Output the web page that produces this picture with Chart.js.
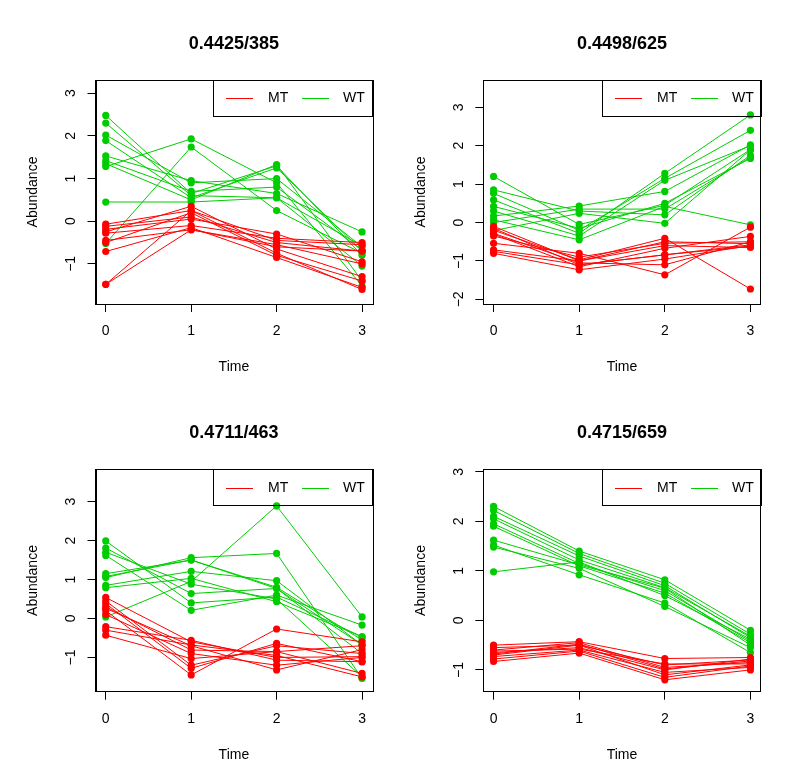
<!DOCTYPE html>
<html lang="en">
<head>
<meta charset="UTF-8">
<title>Abundance over time</title>
<style>
  * { margin: 0; padding: 0; }
  body { background: #fff; width: 800px; height: 783px; position: relative; overflow: hidden; }
  canvas { position: absolute; }
</style>
</head>
<body>
<canvas id="p1" width="400" height="391" style="left:0;top:0"></canvas>
<canvas id="p2" width="400" height="391" style="left:400px;top:0"></canvas>
<canvas id="p3" width="400" height="392" style="left:0;top:391px"></canvas>
<canvas id="p4" width="400" height="392" style="left:400px;top:391px"></canvas>
<script src="https://cdn.jsdelivr.net/npm/chart.js@4.4.1/dist/chart.umd.min.js"></script>
<script>
// time points and groups
const times = [0, 1, 2, 3];
const groups = ['MT', 'WT'];
const groupColors = ['rgb(255,0,0)', 'rgb(0,205,0)'];

// panel 1: 0.4425/385
const p1MT = [
  [-0.07, 0.25, -0.45, -0.55],
  [-0.12, 0.10, -0.50, -0.70],
  [-0.19, 0.05, -0.30, -0.95],
  [-0.25, 0.35, -0.65, -1.30],
  [-0.28, -0.10, -0.40, -0.50],
  [-0.50, 0.20, -0.80, -1.40],
  [-0.45, -0.20, -0.55, -1.00],
  [-0.71, -0.15, -0.85, -1.55],
  [-1.48, 0.25, -0.75, -1.60],
  [-1.48, -0.20, -0.60, -0.70]
];
const p1WT = [
  [2.48, 0.65, 1.30, -0.80],
  [2.30, 0.60, 0.55, -1.05],
  [2.02, 0.90, 1.00, -0.60],
  [1.89, 0.55, 1.25, -0.70],
  [1.53, 0.95, 0.65, -0.25],
  [1.42, 0.70, 0.80, -0.68],
  [1.28, 1.93, 0.90, -1.52],
  [0.45, 0.45, 0.55, -0.58],
  [-0.52, 1.74, 0.25, -0.75],
  [1.35, 0.50, 1.33, -1.40]
];

// panel 2: 0.4498/625
const p2MT = [
  [-0.10, -1.00, -0.50, -0.55],
  [-0.15, -1.10, -0.84, -0.62],
  [-0.20, -0.97, -0.41, -1.73],
  [-0.28, -1.05, -1.10, -0.50],
  [-0.30, -1.15, -0.67, -0.36],
  [-0.54, -0.80, -1.36, -0.12],
  [-0.71, -1.00, -0.60, -0.65],
  [-0.75, -1.10, -0.84, -0.58],
  [-0.80, -1.23, -0.95, -0.60],
  [-0.35, -0.90, -0.54, -0.50]
];
const p2WT = [
  [1.20, -0.05, 0.45, 1.90],
  [0.85, 0.30, 0.20, 1.75],
  [0.76, -0.20, 1.15, 2.40],
  [0.59, -0.28, 1.28, 2.80],
  [0.42, -0.15, 0.50, 1.67],
  [0.17, 0.43, 0.81, 2.02],
  [0.07, -0.45, 0.42, -0.06],
  [-0.21, 0.24, -0.02, 1.89],
  [0.30, -0.35, 1.10, 2.00],
  [0.00, 0.35, 0.35, 1.70]
];

// panel 3: 0.4711/463
const p3MT = [
  [0.54, -0.60, -1.00, -0.98],
  [0.38, -1.28, -0.64, -1.11],
  [0.26, -0.70, -1.32, -0.80],
  [0.30, -0.81, -0.85, -1.41],
  [0.20, -1.45, -0.27, -0.60],
  [-0.21, -0.56, -1.07, -1.11],
  [-0.43, -1.03, -0.85, -0.70],
  [-0.30, -0.68, -0.95, -1.50],
  [0.45, -1.20, -0.70, -0.90],
  [0.10, -0.90, -1.20, -1.00]
];
const p3WT = [
  [1.99, 0.40, 0.55, -0.47],
  [1.81, 0.64, 0.77, -0.68],
  [1.62, 0.21, 0.60, -0.17],
  [1.15, 1.50, 0.77, -0.90],
  [1.05, 1.56, 1.67, -1.54],
  [0.85, 1.21, 0.97, -0.68],
  [0.79, 1.03, 0.43, -0.47],
  [0.04, 0.95, 2.89, 0.04],
  [1.70, 0.88, 0.50, -1.50],
  [1.08, 1.50, 0.80, -0.55]
];

// panel 4: 0.4715/659
const p4MT = [
  [-0.50, -0.43, -0.77, -0.75],
  [-0.55, -0.50, -0.90, -0.80],
  [-0.60, -0.45, -0.95, -0.85],
  [-0.65, -0.55, -1.00, -0.78],
  [-0.70, -0.50, -1.10, -0.90],
  [-0.73, -0.60, -1.05, -0.95],
  [-0.78, -0.62, -1.15, -0.92],
  [-0.83, -0.66, -1.20, -1.00],
  [-0.68, -0.48, -0.98, -0.82],
  [-0.62, -0.58, -0.88, -0.88]
];
const p4WT = [
  [2.30, 1.40, 0.82, -0.20],
  [2.22, 1.35, 0.75, -0.28],
  [2.10, 1.30, 0.70, -0.35],
  [2.05, 1.22, 0.66, -0.32],
  [1.95, 1.15, 0.60, -0.42],
  [1.90, 1.10, 0.55, -0.45],
  [1.62, 1.12, 0.65, -0.50],
  [1.52, 0.92, 0.35, -0.65],
  [1.48, 1.05, 0.28, -0.55],
  [0.98, 1.18, 0.50, -0.38]
];

const panels = [
  {id: 'p1', title: '0.4425/385', mt: p1MT, wt: p1WT, yMin: -1.94, yMax: 3.31, yTicks: [-1, 0, 1, 2, 3],
   area: {left: 95.5, right: 372.3, top: 80, bottom: 304}, titleY: 44, xTitleY: 367, legendY: 18.5},
  {id: 'p2', title: '0.4498/625', mt: p2MT, wt: p2WT, yMin: -2.12, yMax: 3.71, yTicks: [-2, -1, 0, 1, 2, 3],
   area: {left: 83.3, right: 360.7, top: 80, bottom: 304}, titleY: 44, xTitleY: 367, legendY: 18.5},
  {id: 'p3', title: '0.4711/463', mt: p3MT, wt: p3WT, yMin: -1.88, yMax: 3.83, yTicks: [-1, 0, 1, 2, 3],
   area: {left: 95.5, right: 372.3, top: 78.3, bottom: 300.7}, titleY: 42, xTitleY: 364, legendY: 19.5},
  {id: 'p4', title: '0.4715/659', mt: p4MT, wt: p4WT, yMin: -1.44, yMax: 3.05, yTicks: [-1, 0, 1, 2, 3],
   area: {left: 83.3, right: 360.7, top: 78.3, bottom: 300.7}, titleY: 42, xTitleY: 364, legendY: 19.5}
];

Chart.defaults.font.family = "'Liberation Sans', Arial, sans-serif";
Chart.defaults.font.size = 14;
Chart.defaults.color = '#000';

// black box around the plot region
const frame = {
  id: 'frame',
  afterDraw(chart) {
    const {ctx, chartArea: a} = chart;
    ctx.save();
    ctx.strokeStyle = '#000';
    ctx.lineWidth = 1;
    ctx.strokeRect(Math.round(a.left) + 0.5, Math.round(a.top) + 0.5,
      Math.round(a.right - a.left), Math.round(a.bottom - a.top));
    ctx.restore();
  }
};

// R style legend box in the top right corner
const boxLegend = {
  id: 'boxLegend',
  afterDraw(chart, args, opts) {
    const {ctx, chartArea: a} = chart;
    const r = Math.round(a.right), t = Math.round(a.top);
    const y = t + opts.lineY;
    const items = [[r - 146, r - 104], [r - 70, r - 29]];
    ctx.save();
    ctx.lineWidth = 1;
    ctx.strokeStyle = '#000';
    ctx.strokeRect(r - 159 + 0.5, t + 0.5, 159, 36);
    ctx.font = "14px 'Liberation Sans', Arial, sans-serif";
    ctx.textBaseline = 'middle';
    ctx.textAlign = 'left';
    items.forEach((it, g) => {
      ctx.beginPath();
      ctx.strokeStyle = groupColors[g];
      ctx.moveTo(it[0], y);
      ctx.lineTo(it[0] + 27, y);
      ctx.stroke();
      ctx.fillStyle = '#000';
      ctx.fillText(groups[g], it[1], y);
    });
    ctx.restore();
  }
};

function minus(v) {
  return v < 0 ? '\u2212' + Math.abs(v) : String(v);
}

panels.forEach(p => {
  const canvas = document.getElementById(p.id);
  const W = canvas.width, H = canvas.height;
  const datasets = [];
  [p.mt, p.wt].forEach((rows, g) => {
    rows.forEach(row => {
      datasets.push({
        label: groups[g],
        data: row.map((v, i) => ({x: times[i], y: v})),
        borderColor: groupColors[g],
        backgroundColor: groupColors[g],
        borderWidth: 1,
        pointRadius: 3.6,
        pointBorderWidth: 0,
        pointHoverRadius: 3.6,
        tension: 0
      });
    });
  });

  new Chart(canvas, {
    type: 'line',
    data: {datasets},
    plugins: [frame, boxLegend],
    options: {
      responsive: false,
      animation: false,
      events: [],
      layout: {padding: {left: 0, right: W - p.area.right, top: 0, bottom: 0}},
      plugins: {
        legend: {display: false},
        tooltip: {enabled: false},
        boxLegend: {lineY: p.legendY},
        title: {
          display: true,
          text: p.title,
          fullSize: false,
          color: '#000',
          font: {size: 18, weight: 'bold'},
          padding: {top: p.titleY - 10.8, bottom: p.area.top - (p.titleY - 10.8) - 21.6}
        }
      },
      scales: {
        x: {
          type: 'linear',
          min: -0.12,
          max: 3.12,
          afterBuildTicks: s => { s.ticks = times.map(v => ({value: v})); },
          afterFit: s => { s.height = H - p.area.bottom; },
          grid: {drawOnChartArea: false, tickLength: 8, color: '#000'},
          border: {color: '#000'},
          ticks: {padding: 11, color: '#000', maxRotation: 0},
          title: {display: true, text: 'Time', color: '#000', padding: {top: 0, bottom: H - p.xTitleY - 8.4}}
        },
        y: {
          type: 'linear',
          min: p.yMin,
          max: p.yMax,
          afterBuildTicks: s => { s.ticks = p.yTicks.map(v => ({value: v})); },
          afterFit: s => { s.width = p.area.left; },
          grid: {drawOnChartArea: false, tickLength: 8, color: '#000'},
          border: {color: '#000'},
          ticks: {padding: 8.5, color: '#000', minRotation: 90, maxRotation: 90, crossAlign: 'center', callback: minus},
          title: {display: true, text: 'Abundance', color: '#000', padding: {top: p.area.left - 62 - 8.4, bottom: 0}}
        }
      }
    }
  });
});
</script>
</body>
</html>
